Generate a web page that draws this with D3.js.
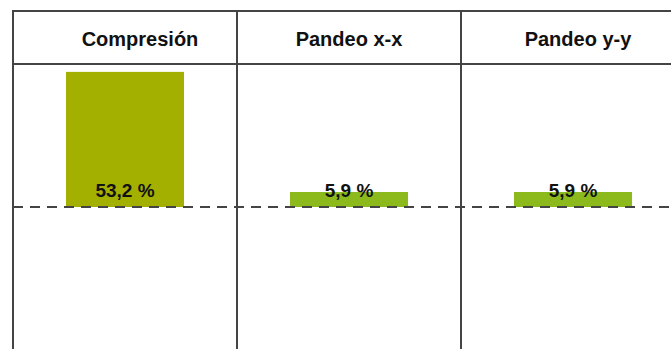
<!DOCTYPE html>
<html>
<head>
<meta charset="utf-8">
<script src="https://cdn.jsdelivr.net/npm/d3@7"></script>
<style>
  html, body { margin: 0; padding: 0; background: #fff; }
  svg { display: block; }
  text { font-family: "Liberation Sans", Arial, sans-serif; font-weight: bold; }
</style>
</head>
<body>
<svg id="chart" width="671" height="349"></svg>
<script>
const categories = ["Compresión", "Pandeo x-x", "Pandeo y-y"];
const values = [53.2, 5.9, 5.9];
const valueLabels = ["53,2 %", "5,9 %", "5,9 %"];
const barColors = ["#a4b000", "#8cba1c", "#8cba1c"];

const W = 671, H = 349;
const svg = d3.select("#chart");

const x = d3.scaleBand().domain(categories).range([13, 685]).paddingInner(0);
const baseY = 207;
const y = d3.scaleLinear().domain([0, 60]).range([baseY, baseY - 60 * 2.54]);

const barW = x.bandwidth() * 0.527;
const lineColor = "#444";

// bars
svg.selectAll("rect.bar")
  .data(categories)
  .join("rect")
  .attr("class", "bar")
  .attr("x", d => x(d) + (x.bandwidth() - barW) / 2)
  .attr("width", barW)
  .attr("y", (d, i) => y(values[i]))
  .attr("height", (d, i) => y(0) - y(values[i]))
  .attr("fill", (d, i) => barColors[i]);

// value labels
svg.selectAll("text.val")
  .data(categories)
  .join("text")
  .attr("class", "val")
  .attr("x", d => x(d) + x.bandwidth() / 2)
  .attr("y", baseY - 10)
  .attr("text-anchor", "middle")
  .attr("font-size", 19)
  .attr("fill", "#111")
  .text((d, i) => valueLabels[i]);

// dashed baseline
svg.append("line")
  .attr("x1", 13).attr("x2", W)
  .attr("y1", y(0)).attr("y2", y(0))
  .attr("stroke", lineColor)
  .attr("stroke-width", 2)
  .attr("stroke-dasharray", "10,7");

// table grid
svg.append("line").attr("x1", 12).attr("x2", W).attr("y1", 11).attr("y2", 11)
  .attr("stroke", lineColor).attr("stroke-width", 2);
svg.append("line").attr("x1", 12).attr("x2", W).attr("y1", 64).attr("y2", 64)
  .attr("stroke", lineColor).attr("stroke-width", 2);
svg.selectAll("line.col")
  .data(categories)
  .join("line")
  .attr("class", "col")
  .attr("x1", d => x(d)).attr("x2", d => x(d))
  .attr("y1", 10).attr("y2", H)
  .attr("stroke", lineColor).attr("stroke-width", 2);

// headers
svg.selectAll("text.head")
  .data(categories)
  .join("text")
  .attr("class", "head")
  .attr("x", (d, i) => x(d) + x.bandwidth() / 2 + (i === 0 ? 15 : (i === 2 ? 5 : 0)))
  .attr("y", 46)
  .attr("text-anchor", "middle")
  .attr("font-size", 20)
  .attr("fill", "#111")
  .text(d => d);
</script>
</body>
</html>
